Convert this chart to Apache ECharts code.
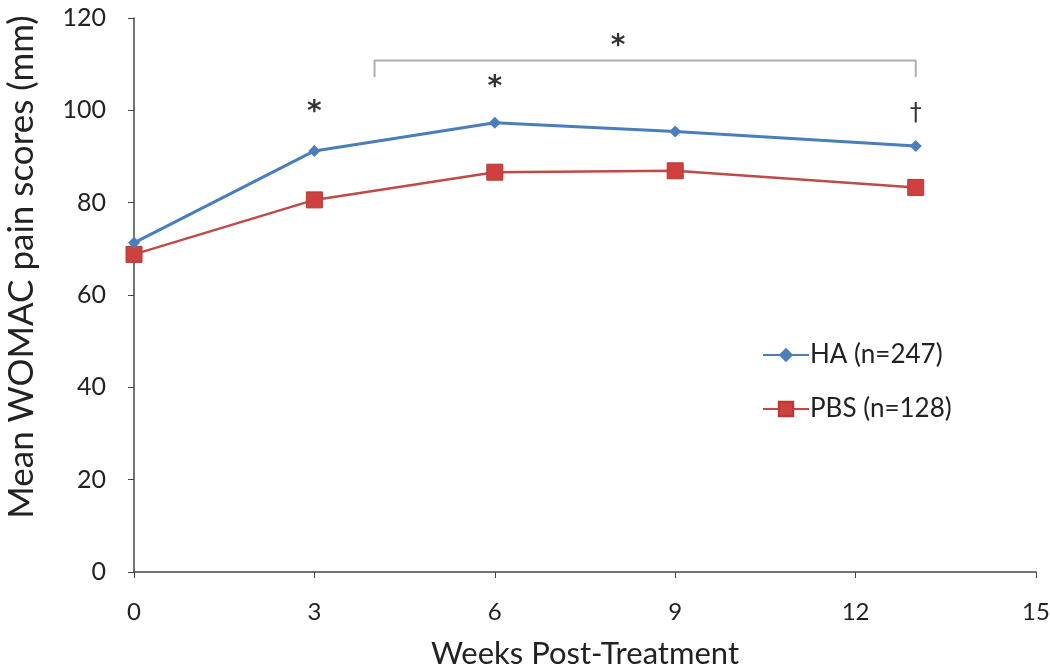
<!DOCTYPE html>
<html><head><meta charset="utf-8">
<script src="https://cdn.jsdelivr.net/npm/echarts@6/dist/echarts.min.js"></script>
<style>html,body{margin:0;padding:0;background:#fff}#c{width:1050px;height:667px}</style>
</head><body><div id="c"></div>
<script>
const weeks = [0, 3, 6, 9, 13];
const haValues = [71.3, 91.2, 97.3, 95.4, 92.3];
const pbsValues = [68.8, 80.6, 86.6, 86.9, 83.3];
const xTicks = [0, 3, 6, 9, 12, 15];
const yTicks = [0, 20, 40, 60, 80, 100, 120];
const bracket = [[4, 107.2], [4, 110.8], [13, 110.8], [13, 107.2]];
const marks = [[3, 99.5, '*'], [6, 104.8, '*'], [8.05, 113.8, '*'], [13, 99.2, '†']];

const font = 'Lato, "Open Sans", sans-serif';
const chart = echarts.init(document.getElementById('c'));
chart.setOption({
  animation: false,
  backgroundColor: '#fff',
  grid: { left: 134, right: 14, top: 18, bottom: 95, containLabel: false, outerBoundsMode: 'none' },
  xAxis: {
    type: 'value', min: 0, max: 15, interval: 3,
    name: 'Weeks Post-Treatment', nameLocation: 'middle', nameGap: 66,
    nameTextStyle: { fontSize: 31, color: '#222', fontFamily: font },
    axisLine: { show: true, lineStyle: { color: '#444', width: 1.5 } },
    axisTick: { show: true, length: 6, lineStyle: { color: '#444' } },
    axisLabel: { fontSize: 24, color: '#222', fontFamily: font, margin: 28,
      formatter: v => xTicks.includes(v) ? String(v) : '' },
    splitLine: { show: false }
  },
  yAxis: {
    type: 'value', min: 0, max: 120, interval: 20,
    name: 'Mean WOMAC pain scores (mm)', nameLocation: 'middle', nameGap: 95,
    nameTextStyle: { fontSize: 35, color: '#222', fontFamily: font, padding: [0, 0, 0, 56] },
    axisLine: { show: true, lineStyle: { color: '#444', width: 1.5 } },
    axisTick: { show: true, length: 6, lineStyle: { color: '#444' } },
    axisLabel: { fontSize: 25, color: '#222', fontFamily: font, margin: 28,
      formatter: v => yTicks.includes(v) ? String(v) : '' },
    splitLine: { show: false }
  },
  legend: {
    data: ['HA (n=247)', 'PBS (n=128)'],
    orient: 'vertical', left: 757, top: 337, itemGap: 28,
    itemWidth: 46, itemHeight: 18,
    textStyle: { fontSize: 26, color: '#222', fontFamily: font, padding: [0, 0, 0, -4] }
  },
  series: [
    {
      name: 'HA (n=247)', type: 'line',
      data: weeks.map((w, i) => [w, haValues[i]]),
      symbol: 'diamond', symbolSize: 12,
      lineStyle: { color: '#4a7ebb', width: 3 },
      itemStyle: { color: '#4a7ebb' },
      z: 3
    },
    {
      name: 'PBS (n=128)', type: 'line',
      data: weeks.map((w, i) => [w, pbsValues[i]]),
      symbol: 'rect', symbolSize: 16,
      lineStyle: { color: '#be4b48', width: 2.5 },
      itemStyle: { color: '#d0403e', borderColor: '#b03a38', borderWidth: 1 },
      z: 2
    },
    {
      name: 'bracket', type: 'line', data: bracket,
      symbol: 'none', silent: true,
      lineStyle: { color: '#a9b0b6', width: 2 }
    },
    {
      name: 'marks', type: 'scatter', symbol: 'circle', symbolSize: 2, silent: true,
      itemStyle: { color: 'rgba(255,255,255,0)' },
      data: marks.map(m => ({ value: [m[0], m[1]],
        label: m[2] === '*' ? { formatter: m[2] } : { formatter: m[2], fontWeight: 'normal', fontSize: 24 } })),
      label: { show: true, position: 'inside', fontSize: 28, fontWeight: 'bold', color: '#000', fontFamily: 'DejaVu Sans' },
      z: 5
    }
  ]
});
</script></body></html>
